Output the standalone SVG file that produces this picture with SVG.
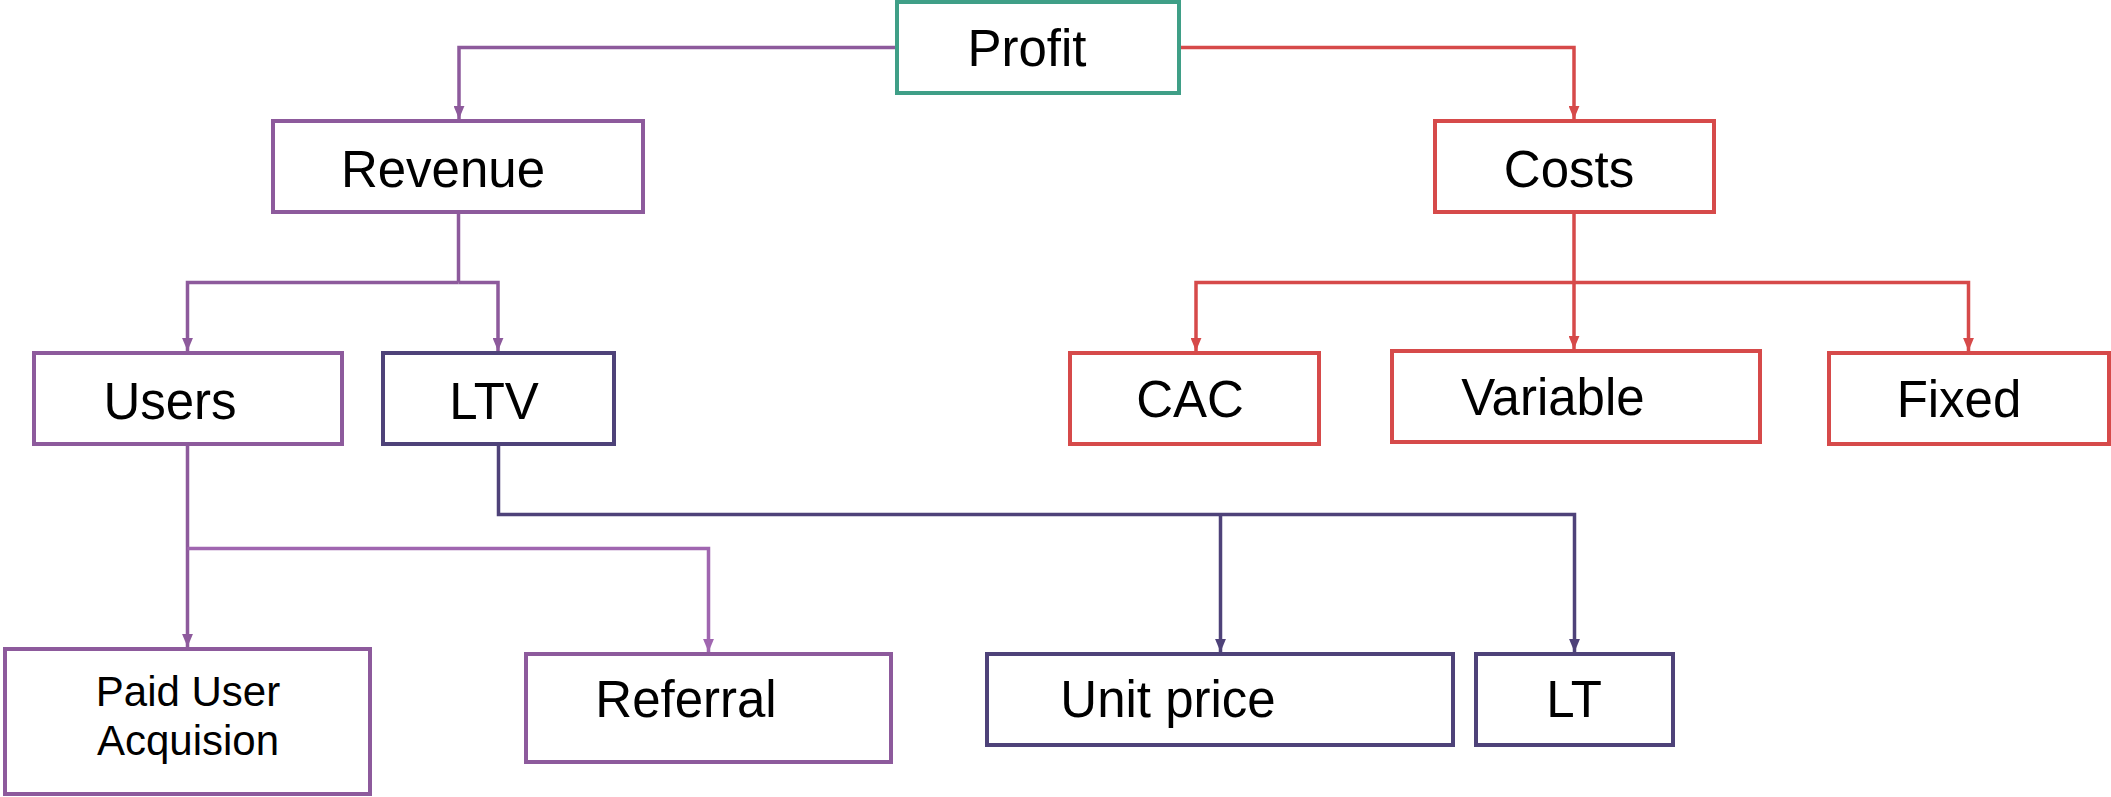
<svg xmlns="http://www.w3.org/2000/svg" width="2111" height="797" viewBox="0 0 2111 797">
<style>
.box{fill:#fff;stroke-width:4}
.p{stroke:#8d5a9c}
.d{stroke:#4e4279}
.r{stroke:#d64a4a}
.g{stroke:#3f9f87}
.t{font-family:"Liberation Sans",Arial,sans-serif;font-size:51px;fill:#000;text-anchor:middle}
.s{font-size:42px}
.c{fill:none;stroke-width:3.5}
</style>
<defs>
<marker id="mp" viewBox="0 0 12 10" refX="12" refY="5" markerWidth="13" markerHeight="11" markerUnits="userSpaceOnUse" orient="auto"><path d="M0,0 L12,5 L0,10 Z" fill="#8d5a9c"/></marker>
<marker id="ml" viewBox="0 0 12 10" refX="12" refY="5" markerWidth="13" markerHeight="11" markerUnits="userSpaceOnUse" orient="auto"><path d="M0,0 L12,5 L0,10 Z" fill="#a066b0"/></marker>
<marker id="md" viewBox="0 0 12 10" refX="12" refY="5" markerWidth="13" markerHeight="11" markerUnits="userSpaceOnUse" orient="auto"><path d="M0,0 L12,5 L0,10 Z" fill="#4e4279"/></marker>
<marker id="mr" viewBox="0 0 12 10" refX="12" refY="5" markerWidth="13" markerHeight="11" markerUnits="userSpaceOnUse" orient="auto"><path d="M0,0 L12,5 L0,10 Z" fill="#d64a4a"/></marker>
</defs>
<g id="connectors">
<path class="c p" d="M897,47.5 H459 V119" marker-end="url(#mp)"/>
<path class="c r" d="M1179,47.5 H1574 V119" marker-end="url(#mr)"/>
<path class="c p" d="M458.5,212 V282.5"/>
<path class="c p" d="M458.5,282.5 H187.5 V351" marker-end="url(#mp)"/>
<path class="c p" d="M458.5,282.5 H498 V351" marker-end="url(#mp)"/>
<path class="c r" d="M1574,212 V349" marker-end="url(#mr)"/>
<path class="c r" d="M1574,282.5 H1196 V351" marker-end="url(#mr)"/>
<path class="c r" d="M1574,282.5 H1968.5 V351" marker-end="url(#mr)"/>
<path class="c p" d="M187.5,444 V647" marker-end="url(#mp)"/>
<path class="c" stroke="#a066b0" d="M187.5,548.5 H708.5 V652" marker-end="url(#ml)"/>
<path class="c d" d="M498.5,444 V514.5 H1574.5 V652" marker-end="url(#md)"/>
<path class="c d" d="M1220.5,514.5 V652" marker-end="url(#md)"/>
</g>
<g id="profit"><rect class="box g" x="897" y="2" width="282" height="91"/><text class="t" x="1027" y="66">Profit</text></g>
<g id="revenue"><rect class="box p" x="273" y="121" width="370" height="91"/><text class="t" x="443" y="187">Revenue</text></g>
<g id="costs"><rect class="box r" x="1435" y="121" width="279" height="91"/><text class="t" x="1569" y="187">Costs</text></g>
<g id="users"><rect class="box p" x="34" y="353" width="308" height="91"/><text class="t" x="170" y="419">Users</text></g>
<g id="ltv"><rect class="box d" x="383" y="353" width="231" height="91"/><text class="t" x="494" y="419">LTV</text></g>
<g id="cac"><rect class="box r" x="1070" y="353" width="249" height="91"/><text class="t" x="1190" y="417">CAC</text></g>
<g id="variable"><rect class="box r" x="1392" y="351" width="368" height="91"/><text class="t" x="1553" y="415">Variable</text></g>
<g id="fixed"><rect class="box r" x="1829" y="353" width="280" height="91"/><text class="t" x="1959" y="417">Fixed</text></g>
<g id="paid"><rect class="box p" x="5" y="649" width="365" height="145"/><text class="t s" x="188" y="706">Paid User</text><text class="t s" x="188" y="755">Acquision</text></g>
<g id="referral"><rect class="box p" x="526" y="654" width="365" height="108"/><text class="t" x="686" y="717">Referral</text></g>
<g id="unitprice"><rect class="box d" x="987" y="654" width="466" height="91"/><text class="t" x="1168" y="717">Unit price</text></g>
<g id="lt"><rect class="box d" x="1476" y="654" width="197" height="91"/><text class="t" x="1574" y="717">LT</text></g>
</svg>
